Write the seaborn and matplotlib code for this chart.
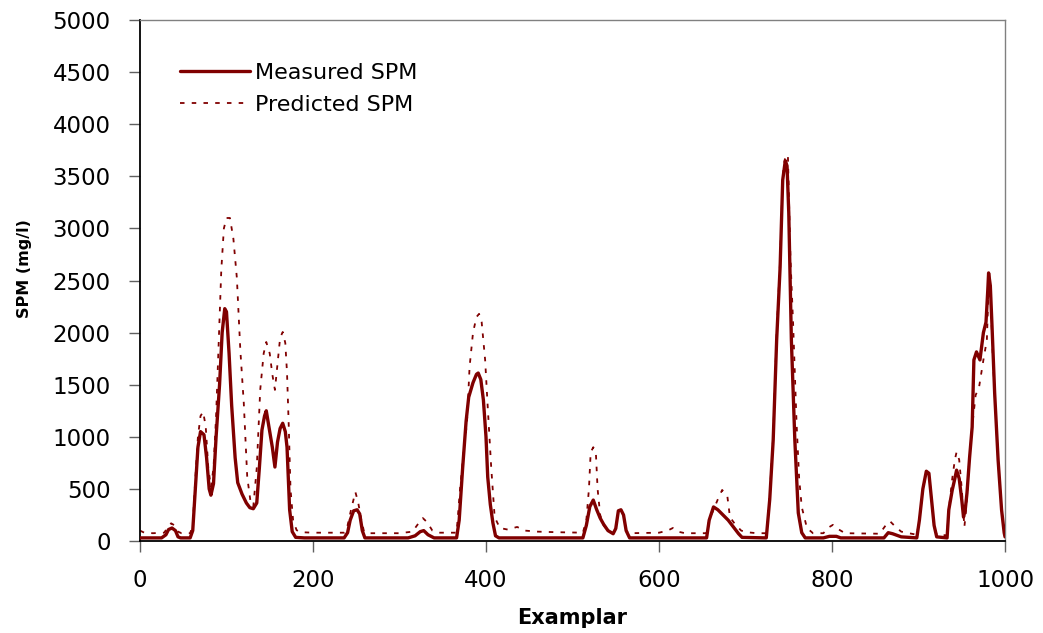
import matplotlib
matplotlib.use("Agg")
import matplotlib.pyplot as plt
import seaborn as sns
import pandas as pd

# Measured SPM (exemplar index, mg/l)
measured_x = [0, 25, 30, 33, 37, 41, 44, 47, 58, 61, 64, 67, 70, 74, 77, 80, 82, 85, 88, 92, 95, 98, 100,
              103, 106, 110, 113, 118, 123, 127, 131, 135, 138, 141, 144, 146, 149, 153, 156, 159, 162, 165,
              168, 170, 173, 176, 180, 190, 236, 240, 243, 247, 251, 254, 257, 260, 310, 318, 324, 328, 333,
              340, 366, 369, 373, 377, 380, 385, 389, 391, 394, 397, 400, 402, 405, 408, 411, 415, 512, 516,
              520, 524, 528, 532, 536, 541, 547, 550, 553, 556, 559, 562, 566, 655, 658, 663, 668, 674, 680,
              686, 692, 696, 724, 728, 732, 736, 740, 743, 746, 748, 750, 753, 757, 761, 765, 769, 790, 797,
              805, 810, 860, 865, 870, 880, 898, 901, 905, 909, 912, 915, 918, 921, 933, 935, 939, 942, 944,
              947, 950, 952, 954, 956, 959, 962, 964, 967, 971, 975, 978, 980, 981, 983, 985, 988, 992, 996,
              999, 1000]
measured_y = [30, 30, 60, 110, 125, 100, 40, 30, 30, 100, 500, 900, 1050, 1020, 800, 500, 440, 550, 1000,
              1500, 2000, 2230, 2200, 1800, 1300, 800, 560, 450, 365, 320, 310, 365, 700, 1065, 1200, 1250,
              1100, 900, 710, 950, 1080, 1130, 1050, 900, 300, 90, 35, 30, 30, 80, 200, 290, 300, 260, 100,
              30, 30, 50, 90, 100, 60, 30, 30, 200, 700, 1150, 1380, 1520, 1600, 1612, 1550, 1353, 1000,
              614, 350, 173, 50, 30, 30, 150, 330, 393, 300, 220, 160, 100, 70, 120, 290, 300, 250, 100, 30,
              30, 200, 327, 300, 250, 200, 135, 70, 35, 30, 400, 970, 1930, 2630, 3465, 3650, 3600, 3150,
              1930, 970, 270, 80, 30, 30, 45, 45, 30, 30, 80, 70, 40, 30, 200, 500, 670, 650, 400, 150, 40,
              30, 300, 490, 600, 680, 600, 393, 230, 300, 460, 800, 1094, 1738, 1815, 1738, 2000, 2100,
              2400, 2573, 2450, 2054, 1420, 777, 298, 80, 40]

# Predicted SPM
predicted_x = [0, 5, 15, 28, 32, 36, 40, 44, 48, 58, 61, 64, 67, 70, 73, 76, 79, 82, 85, 88, 91, 94, 97,
               100, 104, 108, 112, 116, 120, 124, 128, 131, 135, 139, 143, 146, 150, 153, 156, 159, 162, 165,
               168, 170, 172, 174, 177, 181, 185, 200, 236, 240, 244, 249, 252, 256, 259, 265, 300, 315, 322,
               327, 332, 338, 345, 366, 370, 374, 378, 381, 385, 389, 392, 395, 399, 402, 406, 410, 416, 425,
               436, 445, 460, 480, 512, 516, 519, 521, 524, 527, 529, 532, 536, 541, 547, 550, 553, 556, 559,
               562, 566, 600, 610, 616, 622, 630, 655, 658, 663, 668, 673, 679, 682, 688, 695, 701, 713, 724,
               728, 732, 736, 740, 743, 746, 749, 752, 755, 759, 762, 765, 771, 778, 790, 796, 801, 806, 815,
               855, 862, 867, 873, 880, 898, 901, 905, 909, 912, 915, 918, 921, 933, 935, 939, 942, 944, 947,
               950, 953, 955, 958, 962, 966, 970, 975, 979, 981, 983, 986, 988, 992, 996, 999, 1000]
predicted_y = [100, 80, 75, 80, 130, 170, 150, 90, 75, 75, 150, 600, 1000, 1200, 1240, 1100, 700, 520,
               700, 1200, 1900, 2600, 3000, 3100, 3100, 2900, 2525, 1834, 1325, 614, 365, 330, 700, 1450,
               1800, 1910, 1800, 1600, 1450, 1700, 1950, 2006, 1900, 1612, 1100, 500, 200, 105, 85, 80, 80,
               150, 300, 470, 380, 200, 90, 75, 75, 90, 170, 220, 180, 100, 80, 80, 500, 845, 1133, 1670,
               2000, 2150, 2180, 2100, 1738, 1286, 710, 230, 125, 110, 135, 100, 90, 85, 80, 200, 500, 850,
               900, 850, 500, 250, 150, 100, 75, 120, 290, 300, 250, 100, 75, 80, 100, 125, 90, 75, 75, 200,
               300, 400, 490, 430, 230, 160, 100, 85, 75, 75, 450, 1000, 2000, 2700, 3500, 3700, 3700, 2700,
               2090, 1133, 600, 327, 125, 75, 75, 130, 155, 120, 75, 70, 150, 190, 140, 90, 60, 200, 500,
               650, 650, 400, 150, 60, 55, 300, 600, 780, 855, 780, 500, 135, 300, 700, 1094, 1400, 1478,
               1738, 1930, 2450, 2400, 1738, 1420, 777, 298, 100, 60]

y_ticks = [0, 500, 1000, 1500, 2000, 2500, 3000, 3500, 4000, 4500, 5000]
x_ticks = [0, 200, 400, 600, 800, 1000]

sns.set_style("white", {"xtick.bottom": True, "ytick.left": True})
plt.rcParams['font.family'] = ['DejaVu Sans']
plt.rcParams['text.color'] = 'black'
plt.rcParams['axes.labelcolor'] = 'black'

fig = plt.figure(figsize=(10.43, 6.33), dpi=100)
ax = fig.add_axes([0.1342, 0.1453, 0.9636 - 0.1342, 0.9684 - 0.1453])

color = "#800000"
df_m = pd.DataFrame({"x": measured_x, "y": measured_y})
df_p = pd.DataFrame({"x": predicted_x, "y": predicted_y})

sns.lineplot(data=df_m, x="x", y="y", ax=ax, color=color, lw=2.4, estimator=None,
             label="Measured SPM", zorder=3)
sns.lineplot(data=df_p, x="x", y="y", ax=ax, color=color, lw=1.3, estimator=None,
             label="Predicted SPM", zorder=2, linestyle=(0, (2.5, 4)))

ax.set_xlim(0, 1000)
ax.set_ylim(0, 5000)
ax.set_xticks(x_ticks)
ax.set_yticks(y_ticks)
ax.tick_params(axis="both", labelsize=16.5, labelcolor="black", color="#606060",
               direction="out", length=8, width=1, bottom=True, left=True)
ax.tick_params(axis="x", pad=12)
ax.tick_params(axis="y", pad=13)

for side in ["left", "bottom"]:
    ax.spines[side].set_color("black")
    ax.spines[side].set_linewidth(1.3)
for side in ["top", "right"]:
    ax.spines[side].set_color("#808080")
    ax.spines[side].set_linewidth(1.0)

ax.set_xlabel("Examplar", fontsize=15, fontweight="bold", color="black")
ax.xaxis.set_label_coords(0.5, -0.128)
ax.set_ylabel("SPM (mg/l)", fontsize=11.5, fontweight="bold", color="black")
ax.yaxis.set_label_coords(-0.125, 0.522)

leg = ax.legend(loc="upper left", bbox_to_anchor=(0.046, 0.918), frameon=False,
                fontsize=16, handlelength=3.15, handletextpad=0.23, labelspacing=0.55,
                borderpad=0.0, borderaxespad=0.0, labelcolor="black")

fig.savefig("out.png", dpi=100)
